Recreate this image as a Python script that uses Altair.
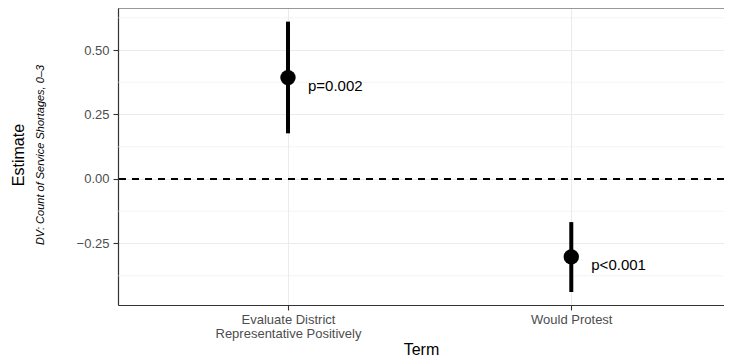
import altair as alt
import pandas as pd

# ---- data ----
terms = ["Evaluate District Representative Positively", "Would Protest"]
term_pos = [1, 2]
estimates = [0.393, -0.302]
ci_low = [0.177, -0.438]
ci_high = [0.610, -0.167]
p_labels = ["p=0.002", "p<0.001"]
major_y = [-0.25, 0.0, 0.25, 0.50]
minor_y = [-0.375, -0.125, 0.125, 0.375, 0.625]
zero_line = [0.0]

df = pd.DataFrame({
    "term": terms,
    "pos": term_pos,
    "est": estimates,
    "lo": ci_low,
    "hi": ci_high,
    "p": p_labels,
})

W, H = 606, 297
x_dom = [0.4, 0.4 + W / 283.3]
y_dom = [-0.4884, 0.6628]
FONT = "Liberation Sans"

xscale = alt.Scale(domain=x_dom, nice=False, zero=False)
yscale = alt.Scale(domain=y_dom, nice=False, zero=False)

x_axis = alt.Axis(
    values=term_pos,
    labelExpr="datum.value == 1 ? ['Evaluate District', 'Representative Positively'] : 'Would Protest'",
    title="Term", grid=True, gridColor="#EBEBEB", gridWidth=1.1,
    domain=True, domainColor="#333333", domainWidth=1.2,
    ticks=True, tickColor="#333333", tickSize=5, tickWidth=1.1,
    labelColor="#4D4D4D", labelFontSize=13, labelFont=FONT, labelPadding=3,
    labelLineHeight=14.5, labelOverlap=False,
    titleFont=FONT, titleFontSize=16, titleColor="black", titleFontWeight="normal",
    titleY=44, titleBaseline="middle",
)
y_axis = alt.Axis(
    values=major_y, format=".2f", title="",
    grid=True, gridColor="#EBEBEB", gridWidth=1.1,
    domain=True, domainColor="#333333", domainWidth=1.2,
    ticks=True, tickColor="#333333", tickSize=5, tickWidth=1.1,
    labelColor="#4D4D4D", labelFontSize=13, labelFont=FONT, labelPadding=4,
)

minor = alt.Chart(pd.DataFrame({"y": minor_y})).mark_rule(
    color="#EBEBEB", strokeWidth=0.55
).encode(y=alt.Y("y:Q", scale=yscale, axis=y_axis))

zero = alt.Chart(pd.DataFrame({"y": zero_line})).mark_rule(
    color="black", strokeWidth=1.8, strokeDash=[7, 6]
).encode(y=alt.Y("y:Q", scale=yscale, axis=y_axis))

bars = alt.Chart(df).mark_rule(color="black", strokeWidth=4).encode(
    x=alt.X("pos:Q", scale=xscale, axis=x_axis),
    y=alt.Y("lo:Q", scale=yscale, axis=y_axis),
    y2="hi:Q",
)

points = alt.Chart(df).mark_circle(color="black", size=236, opacity=1).encode(
    x=alt.X("pos:Q", scale=xscale, axis=x_axis),
    y=alt.Y("est:Q", scale=yscale, axis=y_axis),
)

labels = alt.Chart(df).mark_text(
    align="left", baseline="middle", dx=20, dy=8.5, fontSize=15, font=FONT, color="black"
).encode(
    x=alt.X("pos:Q", scale=xscale, axis=x_axis),
    y=alt.Y("est:Q", scale=yscale, axis=y_axis),
    text="p:N",
)

top_border = alt.Chart(alt.Data(values=[{}])).mark_rule(
    color="#333333", strokeWidth=1.2
).encode(x=alt.value(0), x2=alt.value(W), y=alt.value(0))

ytitle = alt.Chart(alt.Data(values=[{}])).mark_text(
    text="Estimate", angle=270, fontSize=16, font=FONT, color="black",
    align="center", baseline="middle"
).encode(x=alt.value(-99.5), y=alt.value(147))

ysub = alt.Chart(alt.Data(values=[{}])).mark_text(
    text="DV: Count of Service Shortages, 0\u20133", angle=270, fontSize=11, font=FONT,
    fontStyle="italic", color="black", align="center", baseline="middle"
).encode(x=alt.value(-77), y=alt.value(147))

chart = alt.layer(
    minor, zero, bars, points, labels, top_border, ytitle, ysub
).properties(
    width=W, height=H,
    autosize=alt.AutoSizeParams(type="none"),
    padding={"left": 110, "top": 0, "right": 0, "bottom": 51},
    background="white",
).configure_view(stroke="transparent")

chart.save("out.html", embed_options={"renderer": "svg", "actions": False})
